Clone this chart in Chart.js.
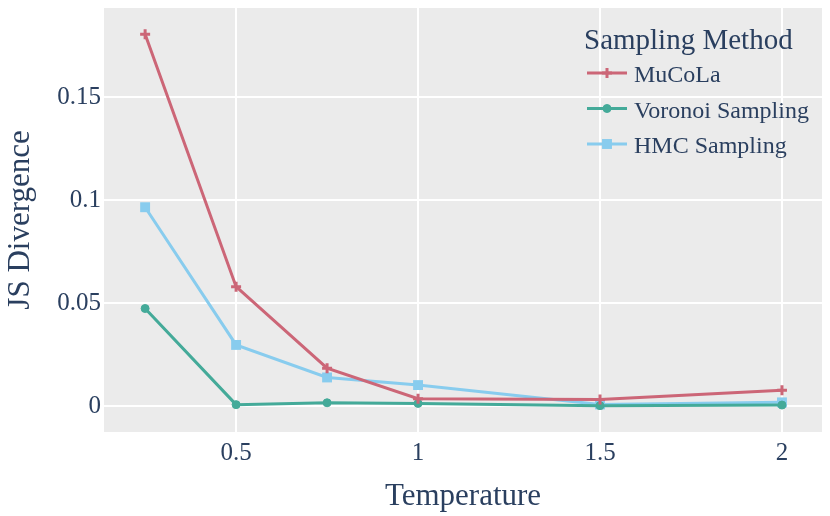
<!DOCTYPE html>
<html>
<head>
<meta charset="utf-8">
<script src="https://cdn.jsdelivr.net/npm/chart.js@4.4.1/dist/chart.umd.min.js"></script>
<style>
    html, body { margin: 0; padding: 0; background: #fff; }
    canvas { display: block; }
</style>
</head>
<body>
<canvas id="jsCanvas" width="830" height="516"></canvas>
<script>
// values
const temperatures = [0.25, 0.5, 0.75, 1, 1.5, 2];
const mucolaJS = [0.1806, 0.058, 0.0184, 0.0036, 0.0032, 0.0077];
const voronoiJS = [0.0474, 0.0007, 0.0016, 0.0013, 0.0002, 0.0005];
const hmcJS = [0.0966, 0.0297, 0.0139, 0.0102, 0.0008, 0.0018];

const seriesNames = ['MuCoLa', 'Voronoi Sampling', 'HMC Sampling'];
const legendTitle = 'Sampling Method';

const xTickValues = [0.5, 1, 1.5, 2];
const xTickLabels = ['0.5', '1', '1.5', '2'];
const yTickValues = [0, 0.05, 0.1, 0.15];
const yTickLabels = ['0', '0.05', '0.1', '0.15'];

const textColor = '#2a3f5f';
const serif = '"Liberation Serif", "Times New Roman", serif';

function toPoints(values) {
    return temperatures.map((t, i) => ({ x: t, y: values[i] }));
}

// grey panel behind the grid, like the ggplot2 template
const plotBackground = {
    id: 'plotBackground',
    beforeDraw(chart) {
        const { ctx, chartArea: a } = chart;
        ctx.save();
        ctx.fillStyle = '#ebebeb';
        ctx.fillRect(a.left, a.top, a.right - a.left, a.bottom - a.top);
        ctx.restore();
    }
};

// legend sits inside the plot, top right
const insideLegend = {
    id: 'insideLegend',
    afterDatasetsDraw(chart) {
        const ctx = chart.ctx;
        ctx.save();
        ctx.fillStyle = textColor;
        ctx.textBaseline = 'alphabetic';
        ctx.font = '29px ' + serif;
        ctx.fillText(legendTitle, 584, 49);

        ctx.font = '24px ' + serif;
        chart.data.datasets.forEach((ds, i) => {
            const y = 73 + i * 35.5;
            ctx.strokeStyle = ds.borderColor;
            ctx.fillStyle = ds.borderColor;
            ctx.lineWidth = 3;
            ctx.beginPath();
            ctx.moveTo(587, y);
            ctx.lineTo(627, y);
            ctx.stroke();
            ctx.lineWidth = ds.pointBorderWidth;
            Chart.helpers.drawPoint(ctx, {
                pointStyle: ds.pointStyle,
                radius: ds.pointRadius,
                borderWidth: ds.pointBorderWidth,
                rotation: 0
            }, 607, y);
            ctx.fillStyle = textColor;
            ctx.fillText(ds.label, 634, y + 9);
        });
        ctx.restore();
    }
};

function makeSeries(label, values, color, style, radius, border) {
    return {
        label: label,
        data: toPoints(values),
        borderColor: color,
        backgroundColor: color,
        pointBackgroundColor: color,
        pointBorderColor: color,
        borderWidth: 3,
        tension: 0,
        pointStyle: style,
        pointRadius: radius,
        pointBorderWidth: border,
        pointHoverRadius: radius
    };
}

const jsChart = new Chart(document.getElementById('jsCanvas'), {
    type: 'line',
    data: {
        datasets: [
            makeSeries(seriesNames[0], mucolaJS, '#cc6677', 'cross', 5, 3),
            makeSeries(seriesNames[1], voronoiJS, '#44aa99', 'circle', 4, 1),
            makeSeries(seriesNames[2], hmcJS, '#88ccee', 'rect', 7, 0)
        ]
    },
    options: {
        responsive: false,
        animation: false,
        devicePixelRatio: 1,
        layout: { padding: { top: 6, right: 8, left: 0, bottom: 0 } },
        plugins: {
            legend: { display: false },
            tooltip: { enabled: false }
        },
        scales: {
            x: {
                type: 'linear',
                min: 0.137,
                max: 2.11,
                afterBuildTicks: (scale) => {
                    scale.ticks = xTickValues.map(v => ({ value: v }));
                },
                afterFit: (scale) => {
                    scale.height = 84;
                    scale.paddingLeft = 0;
                    scale.paddingRight = 0;
                },
                grid: { color: '#ffffff', lineWidth: 2, drawTicks: false },
                border: { display: false },
                ticks: {
                    padding: 6,
                    color: textColor,
                    font: { family: serif, size: 25 },
                    callback: (value) => xTickLabels[xTickValues.indexOf(value)]
                },
                title: {
                    display: true,
                    text: 'Temperature',
                    color: textColor,
                    font: { family: serif, size: 31 },
                    padding: { top: 0, bottom: 1 }
                }
            },
            y: {
                min: -0.0126,
                max: 0.1934,
                afterBuildTicks: (scale) => {
                    scale.ticks = yTickValues.map(v => ({ value: v }));
                },
                afterFit: (scale) => {
                    scale.width = 104;
                    scale.paddingTop = 0;
                    scale.paddingBottom = 0;
                },
                grid: { color: '#ffffff', lineWidth: 2, drawTicks: false },
                border: { display: false },
                ticks: {
                    padding: 3,
                    color: textColor,
                    font: { family: serif, size: 25 },
                    callback: (value) => yTickLabels[yTickValues.indexOf(value)]
                },
                title: {
                    display: true,
                    text: 'JS Divergence',
                    color: textColor,
                    font: { family: serif, size: 31 },
                    padding: { top: 2, bottom: 0 }
                }
            }
        }
    },
    plugins: [plotBackground, insideLegend]
});
</script>
</body>
</html>
